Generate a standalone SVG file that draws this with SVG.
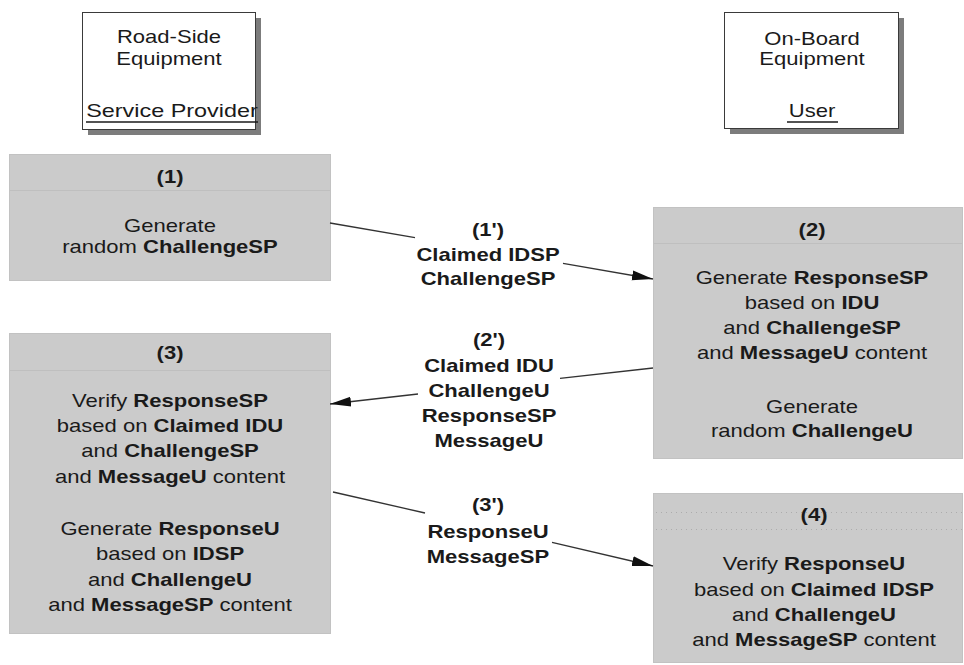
<svg xmlns="http://www.w3.org/2000/svg" width="964" height="665" viewBox="0 0 964 665">
  <style>
    text { font-family: "Liberation Sans", Arial, sans-serif; font-size: 19px; fill: #1a1a1a; text-anchor: middle; }
    .b { font-weight: bold; }
    .actor { fill: #ffffff; stroke: #3a3a3a; stroke-width: 1; }
    .shadow { fill: #7c7c7c; }
    .step { fill: #cbcbcb; stroke: #c2c2c2; stroke-width: 1; }
    .sep { stroke: #bfbfbf; stroke-width: 1; }
    .dots { stroke: #acacac; stroke-width: 1; stroke-dasharray: 1 4; }
    .ul { stroke: #1a1a1a; stroke-width: 1.4; }
    .msg { fill: none; stroke: #333333; stroke-width: 1.3; marker-end: url(#head); }
  </style>
  <defs>
    <marker id="head" markerUnits="userSpaceOnUse" markerWidth="22" markerHeight="12" refX="21" refY="6" orient="auto">
      <path d="M0,1 L21,6 L0,11 z" fill="#111111"/>
    </marker>
  </defs>

  <rect width="964" height="665" fill="#ffffff"/>

  <!-- Actors -->
  <g id="road-side-equipment">
    <rect class="shadow" x="88" y="18" width="173" height="117"/>
    <rect class="actor" x="82.5" y="12.5" width="173" height="117"/>
    <g transform="translate(169 0) scale(1.16 1)">
      <text x="0" y="43">Road-Side</text>
      <text x="0" y="65">Equipment</text>
    </g>
    <g transform="translate(172 0) scale(1.16 1)">
      <text x="0" y="117" textLength="148" lengthAdjust="spacingAndGlyphs">Service Provider</text>
    </g>
    <line class="ul" x1="86" y1="122" x2="258" y2="122"/>
  </g>

  <g id="on-board-equipment">
    <rect class="shadow" x="730" y="18" width="174" height="116"/>
    <rect class="actor" x="724.5" y="12.5" width="174" height="116"/>
    <g transform="translate(812 0) scale(1.16 1)">
      <text x="0" y="45">On-Board</text>
      <text x="0" y="65">Equipment</text>
      <text x="0" y="117">User</text>
    </g>
    <line class="ul" x1="787" y1="122" x2="838" y2="122"/>
  </g>

  <!-- Protocol steps -->
  <g id="step-1">
    <rect class="step" x="9.5" y="154.5" width="321" height="126"/>
    <line class="sep" x1="10" y1="190.5" x2="330" y2="190.5"/>
    <g transform="translate(170 0) scale(1.16 1)">
      <text x="0" y="183" class="b">(1)</text>
      <text x="0" y="232">Generate</text>
      <text x="0" y="253">random <tspan class="b">ChallengeSP</tspan></text>
    </g>
  </g>

  <g id="step-2">
    <rect class="step" x="653.5" y="207.5" width="309" height="251"/>
    <line class="sep" x1="654" y1="243.5" x2="962" y2="243.5"/>
    <g transform="translate(812 0) scale(1.16 1)">
      <text x="0" y="236" class="b">(2)</text>
      <text x="0" y="284">Generate <tspan class="b">ResponseSP</tspan></text>
      <text x="0" y="309">based on <tspan class="b">IDU</tspan></text>
      <text x="0" y="334">and <tspan class="b">ChallengeSP</tspan></text>
      <text x="0" y="359">and <tspan class="b">MessageU</tspan> content</text>
      <text x="0" y="413">Generate</text>
      <text x="0" y="437">random <tspan class="b">ChallengeU</tspan></text>
    </g>
  </g>

  <g id="step-3">
    <rect class="step" x="9.5" y="333.5" width="321" height="300"/>
    <line class="sep" x1="10" y1="370.5" x2="330" y2="370.5"/>
    <g transform="translate(170 0) scale(1.16 1)">
      <text x="0" y="359" class="b">(3)</text>
      <text x="0" y="407">Verify <tspan class="b">ResponseSP</tspan></text>
      <text x="0" y="432">based on <tspan class="b">Claimed IDU</tspan></text>
      <text x="0" y="457">and <tspan class="b">ChallengeSP</tspan></text>
      <text x="0" y="483">and <tspan class="b">MessageU</tspan> content</text>
      <text x="0" y="535">Generate <tspan class="b">ResponseU</tspan></text>
      <text x="0" y="560">based on <tspan class="b">IDSP</tspan></text>
      <text x="0" y="586">and <tspan class="b">ChallengeU</tspan></text>
      <text x="0" y="611">and <tspan class="b">MessageSP</tspan> content</text>
    </g>
  </g>

  <g id="step-4">
    <rect class="step" x="653.5" y="493.5" width="309" height="169"/>
    <line class="dots" x1="656" y1="512.5" x2="962" y2="512.5"/>
    <line class="dots" x1="656" y1="529.5" x2="962" y2="529.5"/>
    <g transform="translate(814 0) scale(1.16 1)">
      <text x="0" y="521" class="b">(4)</text>
      <text x="0" y="570">Verify <tspan class="b">ResponseU</tspan></text>
      <text x="0" y="596">based on <tspan class="b">Claimed IDSP</tspan></text>
      <text x="0" y="621">and <tspan class="b">ChallengeU</tspan></text>
      <text x="0" y="646">and <tspan class="b">MessageSP</tspan> content</text>
    </g>
  </g>

  <!-- Messages exchanged between the two parties -->
  <g id="connectors">
    <path class="msg" d="M330,223 L415,237.7 M563,263.3 L653,279"/>
    <path class="msg" d="M653,368 L560,378.3 M418,394 L330,404"/>
    <path class="msg" d="M333,492 L425,513 M552,542.4 L653,566"/>

    <g transform="translate(488 0) scale(1.16 1)">
      <text x="0" y="236" class="b">(1')</text>
      <text x="0" y="261" class="b">Claimed IDSP</text>
      <text x="0" y="285" class="b">ChallengeSP</text>
    </g>
    <g transform="translate(489 0) scale(1.16 1)">
      <text x="0" y="346" class="b">(2')</text>
      <text x="0" y="372" class="b">Claimed IDU</text>
      <text x="0" y="397" class="b">ChallengeU</text>
      <text x="0" y="422" class="b">ResponseSP</text>
      <text x="0" y="447" class="b">MessageU</text>
    </g>
    <g transform="translate(488 0) scale(1.16 1)">
      <text x="0" y="511" class="b">(3')</text>
      <text x="0" y="538" class="b">ResponseU</text>
      <text x="0" y="563" class="b">MessageSP</text>
    </g>
  </g>
</svg>
